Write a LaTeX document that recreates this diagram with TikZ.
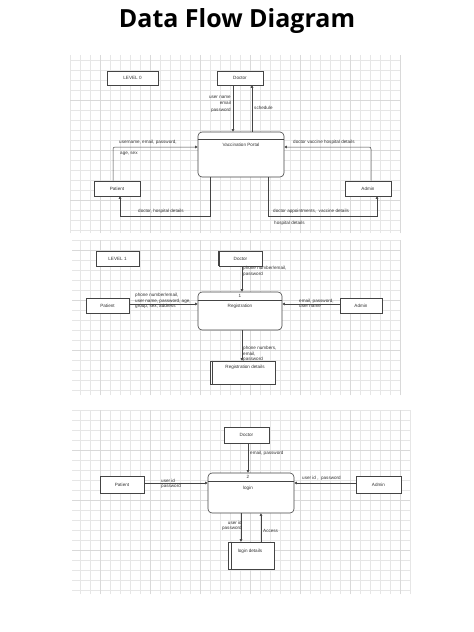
\documentclass[tikz,border=0pt]{standalone}
\usepackage{fontspec}
\setmainfont{Liberation Sans}
\newfontfamily\titlefont{Open Sans}
\usetikzlibrary{arrows.meta}
\definecolor{ln}{HTML}{444444}
\definecolor{tx}{HTML}{333333}
\definecolor{gridc}{HTML}{E6E6E6}
\definecolor{gridm}{HTML}{D9D9D9}
\newcommand{\lblfont}{\fontsize{4.6}{6.2}\selectfont}
\newcommand{\tightfont}{\fontsize{4.6}{5.2}\selectfont}
\tikzset{
  ent/.style={draw=ln, line width=0.55pt, fill=white, inner sep=0pt, font=\lblfont, text=tx},
  proc/.style={draw=ln, line width=0.6pt, fill=white, rounded corners=4pt, inner sep=0pt},
  store/.style={draw=ln, line width=0.55pt, fill=white, inner sep=0pt},
  flow/.style={draw=ln, line width=0.5pt, -{Triangle[length=2.6pt,width=2.6pt]}},
  lbl/.style={font=\lblfont, text=tx, inner sep=0pt},
  tlbl/.style={font=\tightfont, text=tx, inner sep=0pt},
  gridbg/.style={draw=gridc, line width=0.3pt},
  gridmaj/.style={draw=gridm, line width=0.3pt}
}
\begin{document}
\begin{tikzpicture}[x=1pt,y=-1pt]
\useasboundingbox (0,0) rectangle (474,632);
\fill[white] (0,0) rectangle (474,632);
% title
\node[font=\titlefont\bfseries\fontsize{25}{29}\selectfont, text=black, inner sep=0pt] (title) at (237,21) {Data Flow Diagram};
% grids
\draw[gridbg, step=10pt] (70,55) grid (400,233);
\draw[gridmaj, step=50pt] (70,55) grid (400,233);
\draw[gridbg, step=10pt] (72,240) grid (400,395);
\draw[gridmaj, step=50pt] (72,240) grid (400,395);
\draw[gridbg, step=10pt] (72,410) grid (410,594);
\draw[gridmaj, step=50pt] (72,410) grid (410,594);
% helper coordinates
\foreach \xx in {113,120,210,233,241,242,248,252,261,268,371,377}{\coordinate (x\xx) at (\xx,0);}
\foreach \yy in {216,304,483}{\coordinate (y\yy) at (0,\yy);}

% ---------------- LEVEL 0 ----------------
\node[ent, minimum width=51pt, minimum height=14pt] (lvl0) at (132.5,78) {LEVEL 0};
\node[ent, minimum width=46pt, minimum height=14pt] (doc0) at (240,78) {Doctor};
\node[proc, minimum width=86pt, minimum height=45pt] (vp) at (241,154.5) {};
\draw[ln, line width=0.5pt] ([yshift=-8pt]vp.north west) -- ([yshift=-8pt]vp.north east);
\node[lbl] (vpt) at (241,145) {Vaccination Portal};
\node[ent, minimum width=46pt, minimum height=15pt] (pat0) at (117,188.5) {Patient};
\node[ent, minimum width=46pt, minimum height=15pt] (adm0) at (368,188.5) {Admin};

\draw[flow] (doc0.south -| x233) -- (vp.north -| x233);
\draw[flow] (vp.north -| x252) -- (doc0.south -| x252);
\draw[flow, rounded corners=2pt] (pat0.north -| x113) |- ([yshift=7.5pt]vp.west);
\draw[flow, rounded corners=2pt] (adm0.north -| x371) |- ([yshift=7.5pt]vp.east);
\draw[flow] (vp.south -| x210) -- (x210 |- y216) -- (x120 |- y216) -- (pat0.south -| x120);
\draw[flow] (vp.south -| x268) -- (x268 |- y216) -- (x377 |- y216) -- (adm0.south -| x377);

\node[lbl, align=right, anchor=north east] (l01) at (231,96) {user name\\email\\password};
\node[lbl, anchor=west] (l02) at (254,108) {schedule};
\node[lbl, anchor=west] (l03) at (119,142) {username, email, password,};
\node[lbl, anchor=west] (l04) at (120,154) {age, sex};
\node[lbl, anchor=west] (l05) at (138,211) {doctor, hospital details};
\node[lbl, anchor=west] (l06) at (293,142) {doctor vaccine hospital details};
\node[lbl, anchor=west] (l07) at (273,211) {doctor appointments,\ \ vaccine details};
\node[lbl, anchor=west] (l08) at (274,223) {hospital details};

% ---------------- LEVEL 1 ----------------
\node[ent, minimum width=43pt, minimum height=15pt] (lvl1) at (117.5,258.5) {LEVEL 1};
\node[ent, minimum width=43pt, minimum height=15pt] (doc1) at (240.5,258.5) {Doctor};
\draw[ln, line width=1.1pt] (doc1.north west) -- (doc1.south west);
\node[proc, minimum width=84pt, minimum height=38pt] (reg) at (240,311) {};
\draw[ln, line width=0.5pt] ([yshift=-9pt]reg.north west) -- ([yshift=-9pt]reg.north east);
\node[lbl] (regn) at (240,296) {1};
\node[lbl] (regt) at (240,306) {Registration};
\node[ent, minimum width=43pt, minimum height=15pt] (pat1) at (107.5,305.5) {Patient};
\node[ent, minimum width=42pt, minimum height=15pt] (adm1) at (361,305.5) {Admin};
\node[store, minimum width=65pt, minimum height=23pt] (regd) at (242.5,372.5) {};
\draw[ln, line width=0.5pt] ([xshift=3pt]regd.north west) -- ([xshift=3pt]regd.south west);
\node[lbl] (regdt) at (245,367) {Registration details};

\draw[flow] (doc1.south -| x242) -- (reg.north -| x242);
\draw[flow] (pat1.east |- y304) -- (reg.west |- y304);
\draw[flow] (adm1.west |- y304) -- (reg.east |- y304);
\draw[flow] (reg.south -| x242) -- (regd.north -| x242);

\node[lbl, align=left, anchor=north west] (l11) at (243,265.5) {phone number/email,\\password};
\node[tlbl, align=left, anchor=west] (l12) at (135,301) {phone number/email,\\user name, password, age,\\group, sex, address};
\node[tlbl, align=left, anchor=west] (l13) at (299,303.5) {email, password,\\user name};
\node[tlbl, align=left, anchor=west] (l14) at (243,354) {phone numbers,\\email,\\password};

% ---------------- LEVEL 2 ----------------
\node[ent, minimum width=45pt, minimum height=16pt] (doc2) at (246.5,435) {Doctor};
\node[proc, minimum width=86pt, minimum height=40pt] (login) at (251,493) {};
\draw[ln, line width=0.5pt] ([yshift=-9pt]login.north west) -- ([yshift=-9pt]login.north east);
\node[lbl] (logn) at (248,477) {2};
\node[lbl] (logt) at (248,488) {login};
\node[ent, minimum width=44pt, minimum height=17pt] (pat2) at (122,484.5) {Patient};
\node[ent, minimum width=45pt, minimum height=17pt] (adm2) at (378.5,484.5) {Admin};
\node[store, minimum width=46pt, minimum height=27pt] (logd) at (251,555.5) {};
\draw[ln, line width=0.5pt] ([xshift=4pt]logd.north west) -- ([xshift=4pt]logd.south west);
\node[lbl] (logdt) at (250,551) {login details};

\draw[flow] (doc2.south -| x248) -- (login.north -| x248);
\draw[flow] (pat2.east |- y483) -- (login.west |- y483);
\draw[flow] (adm2.west |- y483) -- (login.east |- y483);
\draw[flow] (login.south -| x241) -- (logd.north -| x241);
\draw[flow] (logd.north -| x261) -- (login.south -| x261);

\node[lbl, anchor=west] (l21) at (250,453) {email, password};
\node[tlbl, align=left, anchor=west] (l22) at (161,483.5) {user id\\password};
\node[lbl, anchor=west] (l23) at (302,478) {user id ,\ \ password};
\node[tlbl, align=right, anchor=east] (l24) at (242,525.5) {user id\\password};
\node[lbl, anchor=west] (l25) at (263,531) {Access};
\end{tikzpicture}
\end{document}
